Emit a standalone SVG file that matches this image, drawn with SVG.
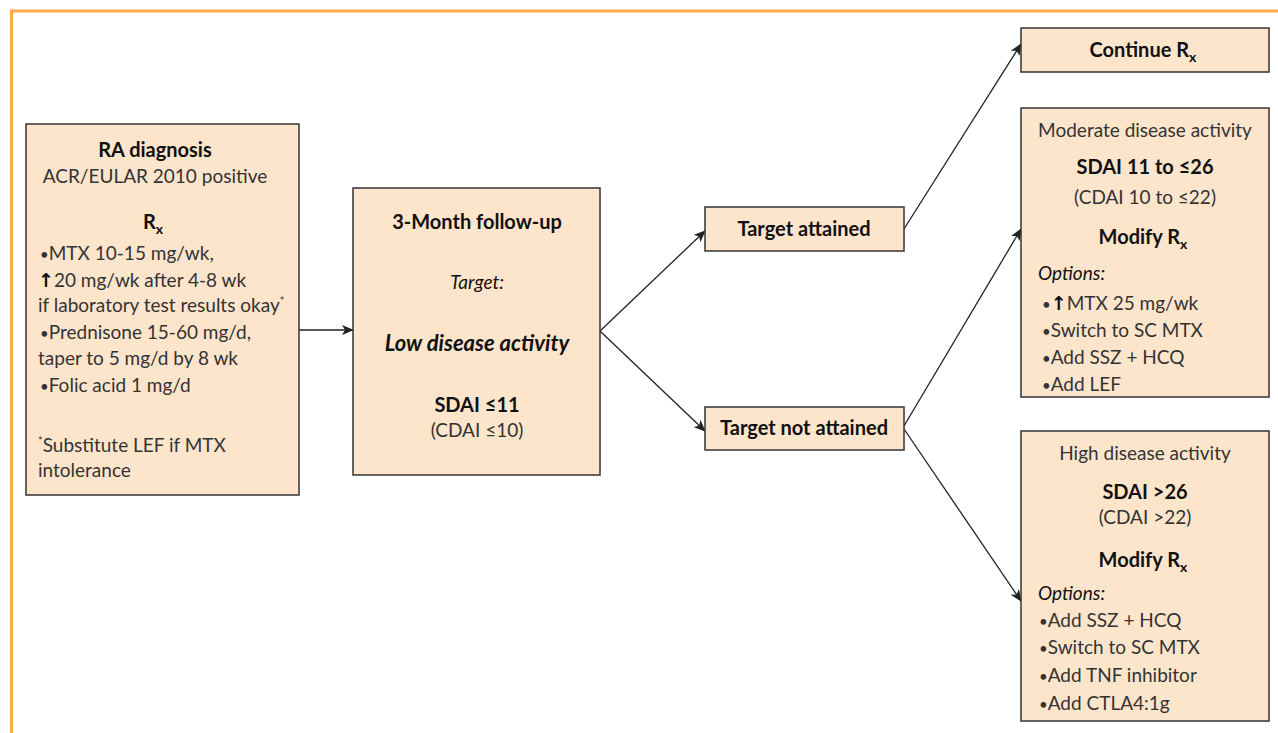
<svg xmlns="http://www.w3.org/2000/svg" width="1278" height="733" viewBox="0 0 1278 733">
<defs>
<marker id="ah" markerWidth="12" markerHeight="10" refX="11" refY="5" orient="auto" markerUnits="userSpaceOnUse">
<path d="M0,0 L12,5 L0,10 L3,5 Z" fill="#222"/>
</marker>
<style>
.box{fill:#FDE5CC;stroke:#333;stroke-width:1.5}
.t{font-family:Lato,"Open Sans","Liberation Sans",sans-serif;font-size:19px;fill:#333}
.b{font-family:Lato,"Liberation Sans",sans-serif;font-size:20px;font-weight:bold;fill:#111}
.c{text-anchor:middle}
.i{font-style:italic}
.sub{font-size:14px}
.bu{font-size:15px}
.ar{font-family:"DejaVu Sans",sans-serif;font-weight:bold;fill:#111}
.con{stroke:#222;stroke-width:1.3;fill:none;marker-end:url(#ah)}
</style>
</defs>
<rect width="1278" height="733" fill="#fff"/>
<path d="M11.5,733 V11 H1278" fill="none" stroke="#F9A945" stroke-width="3"/>

<g id="connectors">
<line class="con" x1="299" y1="330" x2="353" y2="330"/>
<line class="con" x1="600" y1="331" x2="705" y2="231"/>
<line class="con" x1="600" y1="331" x2="705" y2="431"/>
<line class="con" x1="904" y1="229" x2="1021" y2="44"/>
<line class="con" x1="904" y1="426" x2="1021" y2="229"/>
<line class="con" x1="904" y1="429" x2="1021" y2="601"/>
</g>

<g id="ra-diagnosis">
<rect class="box" x="26" y="124" width="273" height="371"/>
<text class="b c" x="155" y="157">RA diagnosis</text>
<text class="t c" x="155" y="183">ACR/EULAR 2010 positive</text>
<text class="b c" x="153" y="229">R<tspan class="sub" dy="5">x</tspan></text>
<text class="t" x="40" y="260"><tspan class="bu">•</tspan>MTX 10-15 mg/wk,</text>
<text class="t" x="38" y="287"><tspan class="ar">↑</tspan>20 mg/wk after 4-8 wk</text>
<text class="t" x="38" y="312">if laboratory test results okay<tspan font-size="11" dy="-7">*</tspan></text>
<text class="t" x="40" y="339"><tspan class="bu">•</tspan>Prednisone 15-60 mg/d,</text>
<text class="t" x="38" y="365">taper to 5 mg/d by 8 wk</text>
<text class="t" x="40" y="392"><tspan class="bu">•</tspan>Folic acid 1 mg/d</text>
<text class="t" x="38" y="452"><tspan font-size="11" dy="-7">*</tspan><tspan dy="7">Substitute LEF if MTX</tspan></text>
<text class="t" x="38" y="477">intolerance</text>
</g>

<g id="follow-up">
<rect class="box" x="353" y="188" width="247" height="287"/>
<text class="b c" x="477" y="229">3-Month follow-up</text>
<text class="t c i" x="477" y="289" style="fill:#111">Target:</text>
<text class="b c i" x="477" y="351" style="font-size:22px">Low disease activity</text>
<text class="b c" x="477" y="412">SDAI ≤11</text>
<text class="t c" x="477" y="437">(CDAI ≤10)</text>
</g>

<g id="target-attained">
<rect class="box" x="705" y="207" width="199" height="44"/>
<text class="b c" x="804" y="236">Target attained</text>
</g>

<g id="target-not-attained">
<rect class="box" x="705" y="407" width="199" height="43"/>
<text class="b c" x="804" y="435">Target not attained</text>
</g>

<g id="continue-rx">
<rect class="box" x="1021" y="28" width="248" height="44"/>
<text class="b c" x="1143" y="57">Continue R<tspan class="sub" dy="5">x</tspan></text>
</g>

<g id="moderate">
<rect class="box" x="1021" y="108" width="248" height="289"/>
<text class="t c" x="1145" y="137">Moderate disease activity</text>
<text class="b c" x="1145" y="174">SDAI 11 to ≤26</text>
<text class="t c" x="1145" y="204">(CDAI 10 to ≤22)</text>
<text class="b c" x="1143" y="244">Modify R<tspan class="sub" dy="5">x</tspan></text>
<text class="t i" x="1038" y="280" style="fill:#111">Options:</text>
<text class="t" x="1042" y="310"><tspan class="bu">•</tspan><tspan class="ar">↑</tspan>MTX 25 mg/wk</text>
<text class="t" x="1042" y="337"><tspan class="bu">•</tspan>Switch to SC MTX</text>
<text class="t" x="1042" y="364"><tspan class="bu">•</tspan>Add SSZ + HCQ</text>
<text class="t" x="1042" y="391"><tspan class="bu">•</tspan>Add LEF</text>
</g>

<g id="high">
<rect class="box" x="1021" y="431" width="248" height="290"/>
<text class="t c" x="1145" y="460">High disease activity</text>
<text class="b c" x="1145" y="499">SDAI &gt;26</text>
<text class="t c" x="1145" y="524">(CDAI &gt;22)</text>
<text class="b c" x="1143" y="567">Modify R<tspan class="sub" dy="5">x</tspan></text>
<text class="t i" x="1038" y="600" style="fill:#111">Options:</text>
<text class="t" x="1039" y="627"><tspan class="bu">•</tspan>Add SSZ + HCQ</text>
<text class="t" x="1039" y="654"><tspan class="bu">•</tspan>Switch to SC MTX</text>
<text class="t" x="1039" y="682"><tspan class="bu">•</tspan>Add TNF inhibitor</text>
<text class="t" x="1039" y="710"><tspan class="bu">•</tspan>Add CTLA4:1g</text>
</g>
</svg>
